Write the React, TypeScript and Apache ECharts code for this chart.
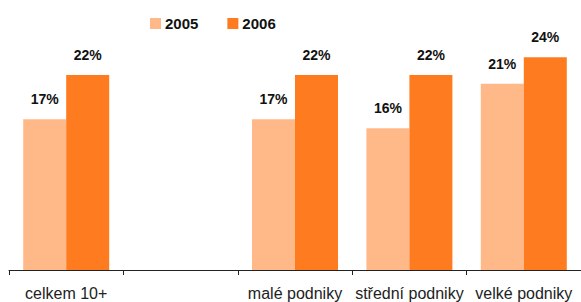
import React, { useEffect, useRef } from "react";
import * as echarts from "echarts";

const categories = ["celkem 10+", "", "malé podniky", "střední podniky", "velké podniky"];
const values2005 = [17, null, 17, 16, 21];
const values2006 = [22, null, 22, 22, 24];
const seriesNames = ["2005", "2006"];
const colors = ["#FFB888", "#FF7B20"];

export default function App() {
  const ref = useRef<HTMLDivElement>(null);
  useEffect(() => {
    if (!ref.current) return;
    const chart = echarts.init(ref.current, null, { renderer: "svg" });
    const labelStyle = {
      show: true,
      position: "top" as const,
      distance: 13,
      formatter: "{c}%",
      fontFamily: "Liberation Sans, Arial, sans-serif",
      fontWeight: "bold" as const,
      fontSize: 14,
      color: "#111",
    };
    chart.setOption({
      animation: false,
      legend: {
        top: 11,
        left: 145,
        itemWidth: 11,
        itemHeight: 11,
        itemGap: 29,
        icon: "rect",
        textStyle: {
          fontFamily: "Liberation Sans, Arial, sans-serif",
          fontWeight: "bold",
          fontSize: 15,
          color: "#111",
          padding: [0, 0, 0, -1],
        },
        data: seriesNames,
      },
      grid: { left: 9, right: -4, top: 4, bottom: 32, containLabel: false },
      xAxis: {
        type: "category",
        data: categories,
        boundaryGap: true,
        axisLine: { lineStyle: { color: "#222", width: 1 } },
        axisTick: { show: true, length: 5, lineStyle: { color: "#222" } },
        axisLabel: {
          interval: 0,
          margin: 15,
          fontFamily: "Liberation Sans, Arial, sans-serif",
          fontSize: 16,
          color: "#222",
        },
      },
      yAxis: {
        type: "value",
        min: 0,
        max: 30,
        show: false,
        splitLine: { show: false },
      },
      series: [
        {
          name: seriesNames[0],
          type: "bar",
          data: values2005,
          barWidth: 43,
          barGap: "0%",
          itemStyle: { color: colors[0] },
          label: labelStyle,
        },
        {
          name: seriesNames[1],
          type: "bar",
          data: values2006,
          barWidth: 43,
          barGap: "0%",
          itemStyle: { color: colors[1] },
          label: labelStyle,
        },
      ],
    });
    return () => chart.dispose();
  }, []);
  return (
    <div
      ref={ref}
      style={{ position: "absolute", left: 0, top: 0, width: 581, height: 302, background: "#fff" }}
    />
  );
}
